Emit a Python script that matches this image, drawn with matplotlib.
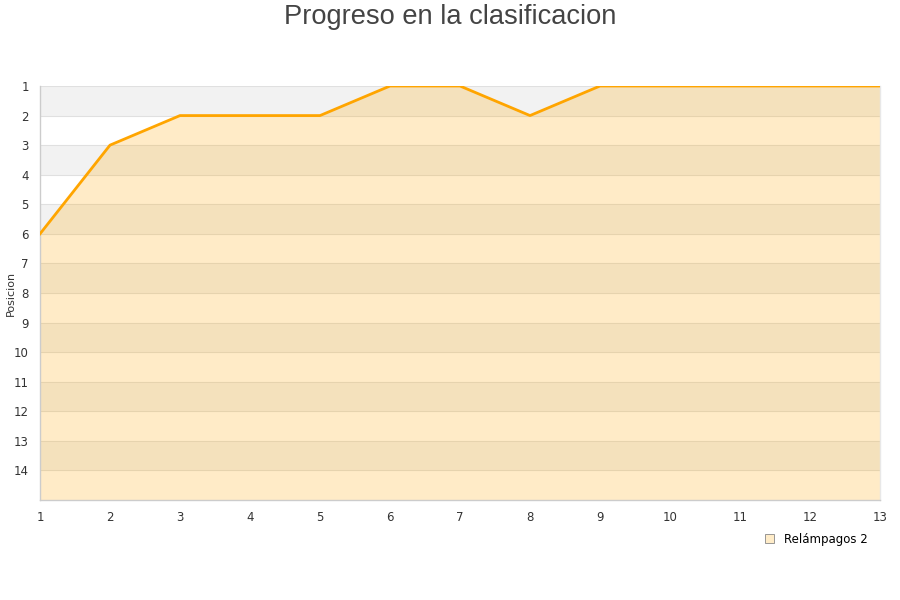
import matplotlib.pyplot as plt
from matplotlib.patches import Patch

jornadas = list(range(1, 14))
posicion = [6, 3, 2, 2, 2, 1, 1, 2, 1, 1, 1, 1, 1]
equipo = "Relámpagos 2"
y_ticks = list(range(1, 15))

fig = plt.figure(figsize=(9, 6), dpi=100)
ax = fig.add_axes([40 / 900, 1 - 500 / 600, 840 / 900, 414 / 600])

# alternating bands
for v in range(1, 15):
    color = "#f2f2f2" if v % 2 == 1 else "#ffffff"
    ax.axhspan(v, v + 1, color=color, zorder=0, lw=0)
for v in y_ticks:
    ax.axhline(v, color="#e0e0e0", lw=0.8, zorder=1)

ax.fill_between(jornadas, posicion, 15, color="#ffa500", alpha=0.22, lw=0, zorder=2)
ax.plot(jornadas, posicion, color="#ffa500", lw=2, zorder=3)

ax.set_xlim(1, 13)
ax.set_ylim(15, 1)
ax.set_xticks(jornadas)
ax.set_yticks(y_ticks)
ax.tick_params(length=0, labelsize=8.5, colors="#333333", pad=8)
for name, sp in ax.spines.items():
    sp.set_color("#cccccc")
    sp.set_linewidth(1)
ax.spines["top"].set_visible(False)
ax.spines["right"].set_color("#e8e8e8")

ax.set_ylabel("Posicion", fontsize=8, color="#333333")
ax.yaxis.set_label_coords(-24 / 840, 0.5)

fig.text(0.5, 1 - 17 / 600, "Progreso en la clasificacion", ha="center", va="center",
         fontsize=19.6, color="#444444", family="Liberation Sans")

handle = Patch(facecolor="#ffecc8", edgecolor="#888888", lw=0.6)
fig.legend([handle], [equipo], loc="center", bbox_to_anchor=(816 / 900, 1 - 539 / 600),
           frameon=False, fontsize=8.5, handlelength=0.8, handleheight=0.8,
           handletextpad=0.8)

fig.savefig("out.png", dpi=100)
